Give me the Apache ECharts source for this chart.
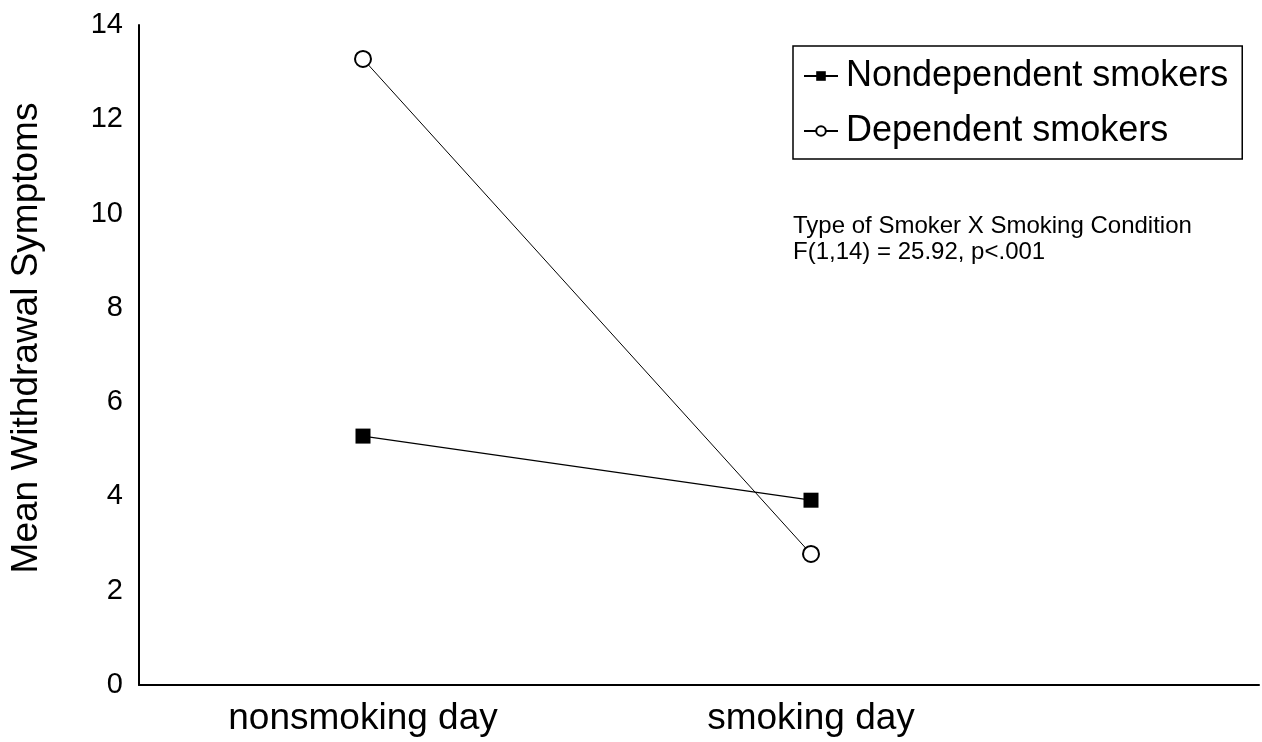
<!DOCTYPE html>
<html>
<head>
<meta charset="utf-8">
<script src="https://cdn.jsdelivr.net/npm/echarts@6/dist/echarts.min.js"></script>
<style>
html,body{margin:0;padding:0;background:#fff;}
#c{width:1262px;height:742px;}
</style>
</head>
<body>
<div id="c"></div>
<script>
// category slots: the visible chart shows 2.5 category bands (right part cropped)
const categories = ['', 'nonsmoking day', '', 'smoking day', '', ''];
const conditions = ['nonsmoking day', 'smoking day'];
const nondependent = [5.28, 3.92];
const dependent = [13.28, 2.78];
const yTicks = { min: 0, max: 14, interval: 2 };
const seriesNames = ['Nondependent smokers', 'Dependent smokers'];
const yAxisName = 'Mean Withdrawal Symptoms';
const noteLines = ['Type of Smoker X Smoking Condition', 'F(1,14) = 25.92, p<.001'];

const FONT = '"Liberation Sans", Arial, sans-serif';
const pair = (vals) => conditions.map((c, i) => [c, vals[i]]);

const chart = echarts.init(document.getElementById('c'), null, { renderer: 'canvas' });
chart.setOption({
  animation: false,
  backgroundColor: '#fff',
  grid: { left: 135, top: 25, bottom: 57, right: 0, containLabel: false },
  xAxis: {
    type: 'category',
    data: categories,
    boundaryGap: false,
    axisLine: { show: true, lineStyle: { color: '#000', width: 2 } },
    axisTick: { show: false },
    axisLabel: { color: '#000', fontFamily: FONT, fontSize: 37, margin: 15, interval: 0 },
    splitLine: { show: false }
  },
  yAxis: {
    type: 'value',
    min: yTicks.min, max: yTicks.max, interval: yTicks.interval,
    name: yAxisName,
    nameLocation: 'middle',
    nameGap: 94,
    nameTextStyle: { color: '#000', fontFamily: FONT, fontSize: 37, padding: [0, 0, 0, 34] },
    axisLine: { show: true, lineStyle: { color: '#000', width: 2 } },
    axisTick: { show: false },
    axisLabel: { color: '#000', fontFamily: FONT, fontSize: 29, margin: 16 },
    splitLine: { show: false }
  },
  legend: {
    orient: 'vertical',
    left: 793, top: 46,
    width: 447,
    data: seriesNames,
    itemWidth: 34, itemHeight: 12,
    itemGap: 19,
    padding: [12, 14, 10, 10],
    borderColor: '#000', borderWidth: 1.5,
    textStyle: { color: '#000', fontFamily: FONT, fontSize: 36, padding: [0, 0, 0, 3] }
  },
  graphic: [{
    type: 'text', left: 793, top: 213,
    style: { text: noteLines.join('\n'), fill: '#000', font: '24px ' + FONT, lineHeight: 26 }
  }],
  series: [
    {
      name: seriesNames[0], type: 'line', data: pair(nondependent),
      symbol: 'rect', symbolSize: 15,
      itemStyle: { color: '#000' },
      lineStyle: { color: '#000', width: 1.3 }
    },
    {
      name: seriesNames[1], type: 'line', data: pair(dependent),
      symbol: 'emptyCircle', symbolSize: 16,
      itemStyle: { color: '#000', borderWidth: 2 },
      lineStyle: { color: '#000', width: 1 }
    }
  ]
});
</script>
</body>
</html>
